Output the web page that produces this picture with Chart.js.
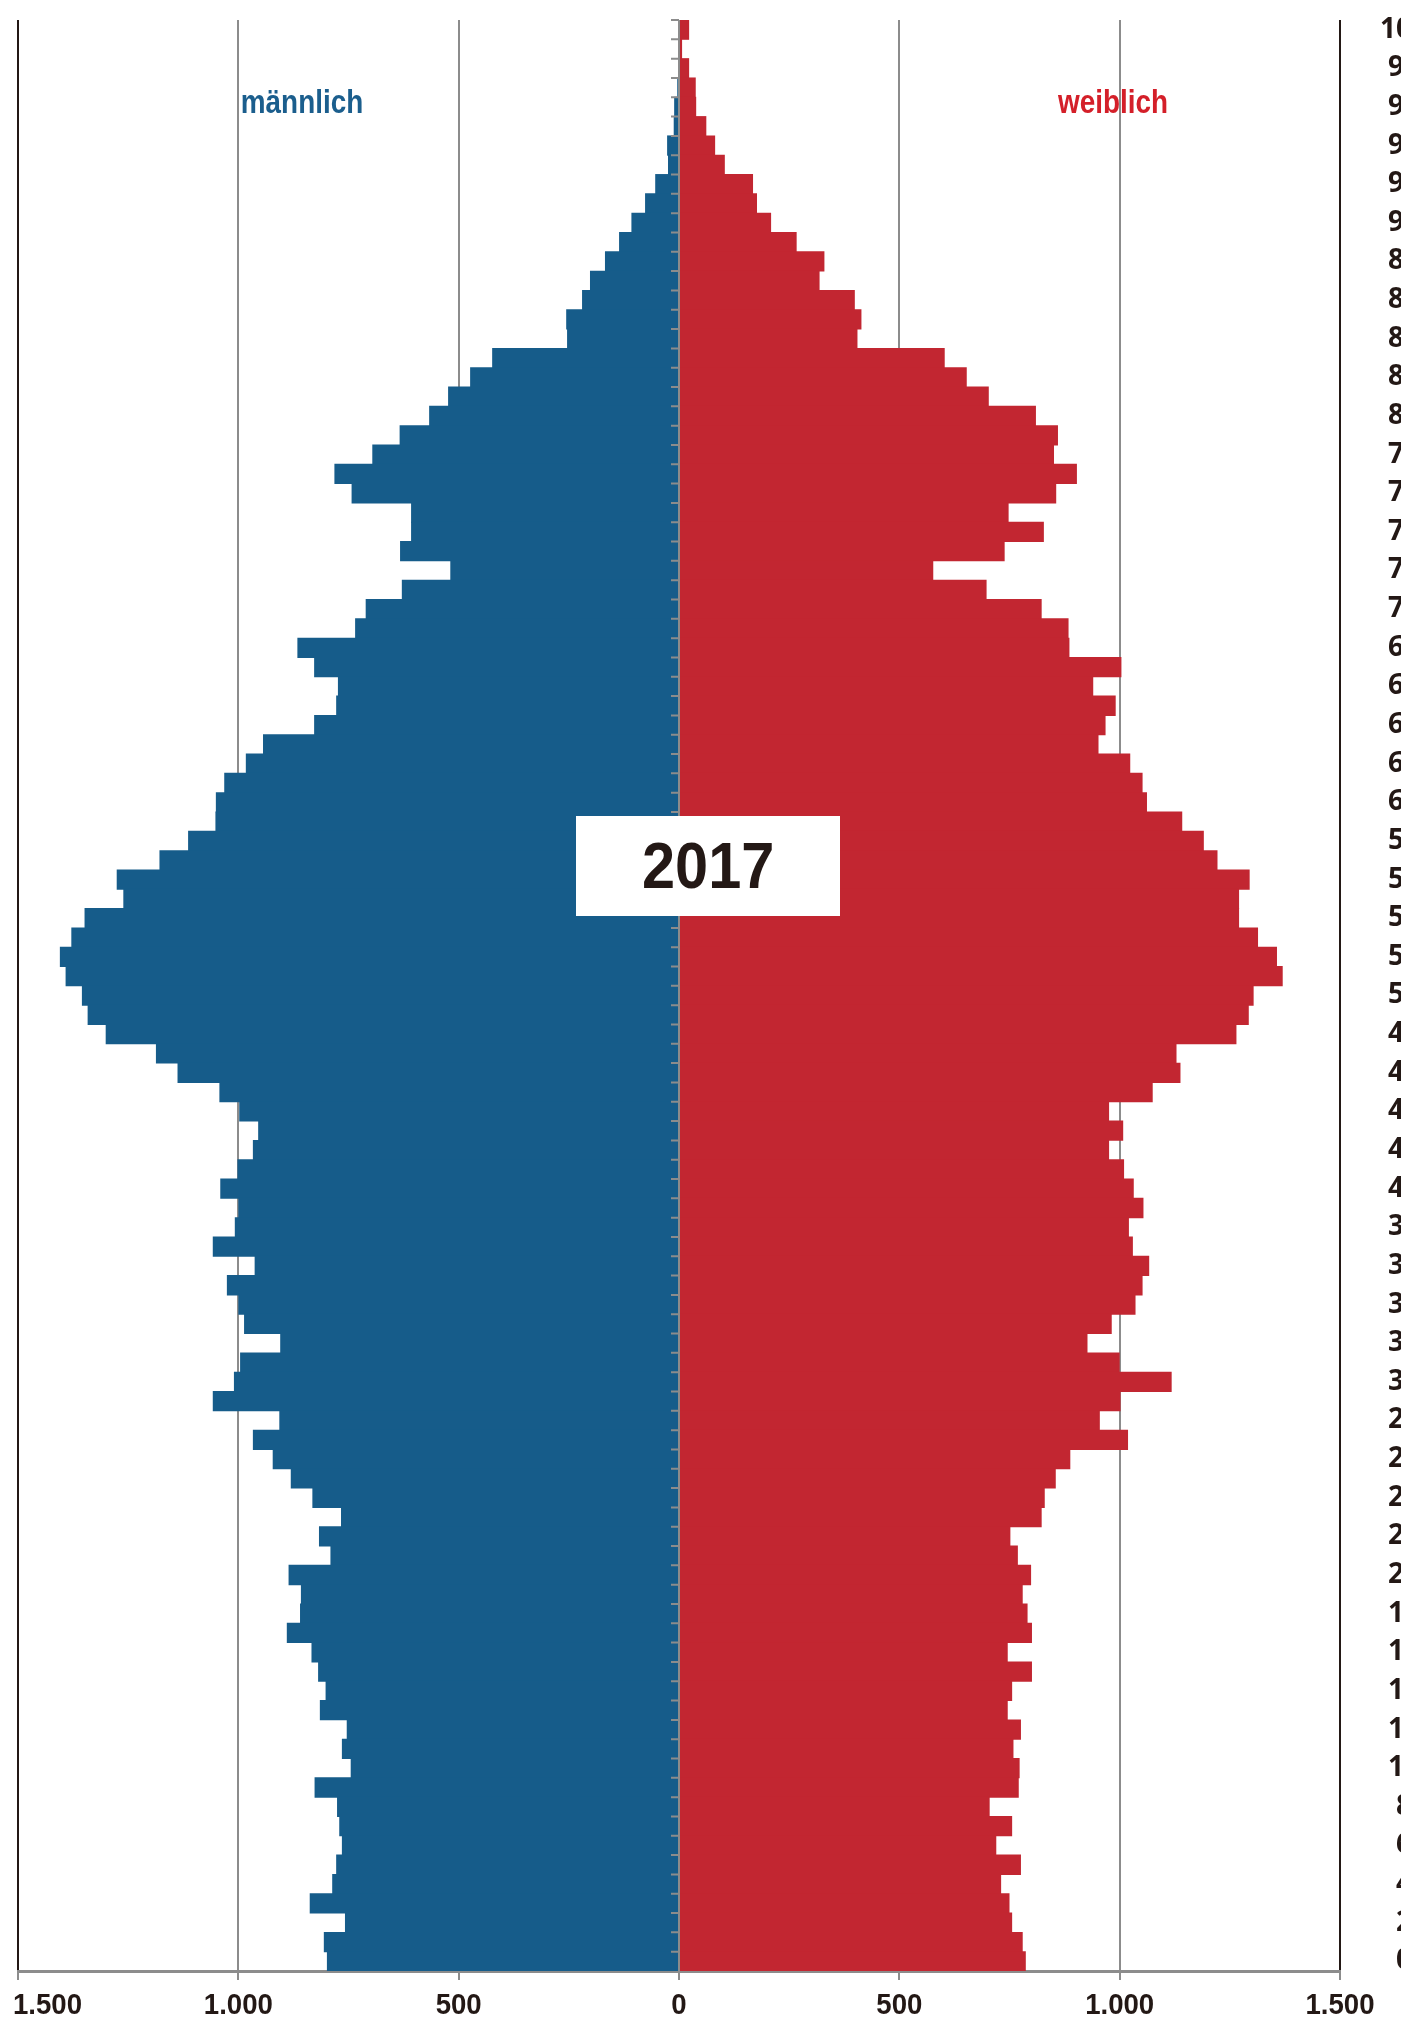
<!DOCTYPE html>
<html lang="de">
<head>
<meta charset="utf-8">
<title>Bevölkerungspyramide 2017</title>
<script src="https://cdn.jsdelivr.net/npm/chart.js@4.4.1/dist/chart.umd.min.js"></script>
<style>
  html, body { margin: 0; padding: 0; background: #fff; overflow: hidden; }
  #wrap { position: absolute; left: 0; top: 0; width: 1440px; height: 2020px; }
  #chart { position: absolute; left: 0; top: 0; }
  .side {
    position: absolute; top: 84px; width: 200px; text-align: center;
    font: 700 34px/34px "Liberation Sans", Arial, sans-serif;
    transform: scaleX(0.82); transform-origin: 50% 50%;
  }
  #male { left: 202px; color: #1b5e8d; }
  #female { left: 1013px; color: #d41f29; }
  #year {
    position: absolute; left: 576px; top: 816px; width: 264px; height: 100px;
    background: #fff; display: flex; align-items: center; justify-content: center;
    font: 700 64px/64px "Liberation Sans", Arial, sans-serif;
    color: #231815;
  }
  #year span { display: inline-block; transform: scaleX(0.93); }
</style>
</head>
<body>
<div id="wrap">
  <canvas id="chart" width="1440" height="2020"></canvas>
  <div class="side" id="male">männlich</div>
  <div class="side" id="female">weiblich</div>
  <div id="year"><span>2017</span></div>
</div>
<script>
// ages from top (100) to bottom (0)
const ages = [];
for (let a = 100; a >= 0; a--) ages.push(String(a));

// values, same order as ages (100 ... 0)
const maleValues = [
  1, 1, 2, 4, 11, 12, 27, 25, 54, 77,
  108, 136, 168, 202, 220, 256, 254, 424, 474, 524,
  567, 634, 696, 782, 743, 608, 608, 633, 519, 629,
  711, 735, 866, 828, 774, 778, 828, 944, 983, 1032,
  1051, 1052, 1114, 1179, 1276, 1261, 1349, 1379, 1405, 1392,
  1355, 1342, 1301, 1187, 1138, 1043, 998, 955, 967, 1002,
  1041, 1000, 1008, 1058, 963, 1026, 1000, 987, 905, 996,
  1010, 1058, 907, 967, 922, 881, 832, 767, 817, 791,
  886, 858, 860, 890, 834, 819, 802, 815, 754, 765,
  745, 827, 776, 771, 765, 778, 787, 838, 758, 806,
  799
];
const femaleValues = [
  23, 7, 23, 38, 39, 62, 82, 104, 168, 177,
  209, 267, 330, 319, 399, 414, 405, 603, 653, 703,
  810, 860, 851, 903, 856, 748, 828, 739, 577, 698,
  823, 884, 886, 1004, 940, 991, 968, 952, 1024, 1052,
  1062, 1142, 1191, 1222, 1295, 1271, 1271, 1314, 1357, 1370,
  1304, 1293, 1265, 1129, 1138, 1075, 976, 1008, 976, 1010,
  1032, 1054, 1021, 1030, 1067, 1052, 1036, 982, 927, 1000,
  1118, 1002, 955, 1019, 888, 855, 830, 823, 752, 769,
  799, 780, 791, 801, 746, 801, 756, 746, 776, 759,
  773, 771, 705, 756, 720, 776, 731, 750, 756, 780,
  787
];
const xTickLabels = ['1.500', '1.000', '500', '0', '500', '1.000', '1.500'];

const GRID = '#8c8c8c';
const DARK = '#231815';

// zero line with small ticks between the age rows, plus the bottom labels
const axisExtras = {
  id: 'axisExtras',
  afterDatasetsDraw(chart) {
    const { ctx, chartArea, scales: { x, y } } = chart;
    const x0 = x.getPixelForValue(0);
    const step = y.getPixelForValue(1) - y.getPixelForValue(0);
    ctx.save();
    ctx.strokeStyle = GRID;
    ctx.lineWidth = 2;
    ctx.beginPath();
    ctx.moveTo(x0, chartArea.top);
    ctx.lineTo(x0, chartArea.bottom);
    for (let i = 0; i < ages.length; i++) {
      const yb = y.getPixelForValue(i) - step / 2;
      ctx.moveTo(x0 - 8, yb);
      ctx.lineTo(x0, yb);
    }
    ctx.stroke();
    ctx.restore();
  },
  afterDraw(chart) {
    const { ctx, scales: { x } } = chart;
    const squeeze = 0.92; // narrow look of the original axis font
    ctx.save();
    ctx.font = '700 30px "Liberation Sans", Arial, sans-serif';
    ctx.fillStyle = DARK;
    ctx.textBaseline = 'alphabetic';
    ctx.textAlign = 'left';
    x.ticks.forEach((t, i) => {
      const txt = xTickLabels[i];
      const w = ctx.measureText(txt).width * squeeze;
      const px = x.getPixelForValue(t.value);
      const left = Math.max(13, px - w / 2);
      ctx.save();
      ctx.translate(left, 2014);
      ctx.scale(squeeze, 1);
      ctx.fillText(txt, 0, 0);
      ctx.restore();
    });
    ctx.restore();
  }
};

const ctx = document.getElementById('chart').getContext('2d');
new Chart(ctx, {
  type: 'bar',
  data: {
    labels: ages,
    datasets: [
      {
        label: 'männlich',
        data: maleValues.map(v => -v),
        backgroundColor: '#165c8a',
        borderWidth: 0,
        barPercentage: 1.05, // tiny overlap so no seams between rows
        categoryPercentage: 1
      },
      {
        label: 'weiblich',
        data: femaleValues,
        backgroundColor: '#c22631',
        borderWidth: 0,
        barPercentage: 1.05,
        categoryPercentage: 1
      }
    ]
  },
  options: {
    indexAxis: 'y',
    responsive: false,
    animation: false,
    devicePixelRatio: 1,
    layout: {
      autoPadding: false,
      padding: { left: 18, top: 20, right: 0, bottom: 0 }
    },
    plugins: {
      legend: { display: false },
      tooltip: { enabled: false }
    },
    scales: {
      x: {
        stacked: true,
        min: -1500,
        max: 1500,
        ticks: { stepSize: 500, color: 'rgba(0,0,0,0)' },
        grid: {
          color: c => {
            const v = c.tick ? c.tick.value : null;
            if (v === 0) return 'rgba(0,0,0,0)';
            if (v === -1500 || v === 1500) return DARK;
            return GRID;
          },
          lineWidth: 2,
          tickColor: GRID,
          tickLength: 9
        },
        border: { color: GRID, width: 3 },
        afterFit: s => {
          s.height = 49;
          s.paddingLeft = 0;
          s.paddingRight = 0;
        }
      },
      y: {
        stacked: true,
        position: 'right',
        grid: { display: false, drawTicks: false },
        border: { display: false },
        ticks: {
          autoSkip: false,
          crossAlign: 'center',
          padding: 40,
          color: DARK,
          font: { family: '"Noto Sans", sans-serif', size: 28, weight: 'bold' },
          callback: function (val, i) {
            const a = Number(ages[i]);
            return a % 2 === 0 ? ages[i] : '';
          }
        },
        afterFit: s => {
          s.width = 100;
          s.paddingTop = 0;
          s.paddingBottom = 0;
        }
      }
    }
  },
  plugins: [axisExtras]
});
</script>
</body>
</html>
